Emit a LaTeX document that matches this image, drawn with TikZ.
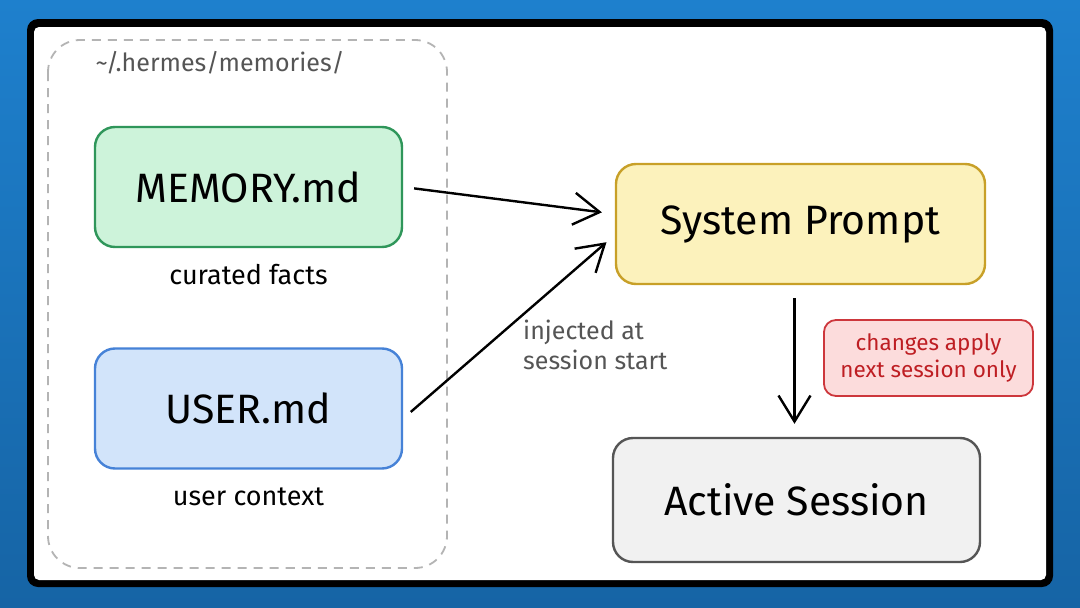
\documentclass[tikz,border=0pt]{standalone}
\usepackage{fontspec}
\setmainfont{Fira Sans}
\usetikzlibrary{arrows.meta}
\definecolor{bgtop}{RGB}{30,128,205}
\definecolor{bgbot}{RGB}{22,100,165}
\definecolor{grn}{RGB}{47,150,90}
\definecolor{grnfill}{RGB}{205,243,218}
\definecolor{blu}{RGB}{70,130,215}
\definecolor{blufill}{RGB}{210,228,250}
\definecolor{gld}{RGB}{200,160,40}
\definecolor{gldfill}{RGB}{252,242,188}
\definecolor{gryfill}{RGB}{241,241,241}
\definecolor{grystroke}{RGB}{85,85,85}
\definecolor{redc}{RGB}{205,55,60}
\definecolor{redfill}{RGB}{252,220,220}
\definecolor{redtext}{RGB}{190,30,35}
\definecolor{labelgray}{RGB}{85,85,85}
\tikzset{
  box/.style={draw, line width=2.4pt, rounded corners=20pt, minimum width=307pt, minimum height=120pt, inner sep=0pt},
  bigtext/.style={font=\fontsize{41}{48}\selectfont, text=black},
  small/.style={font=\fontsize{27}{32}\selectfont, text=black},
  note/.style={font=\fontsize{22.5}{27}\selectfont, align=center},
  conn/.style={line width=2.4pt, -{Straight Barb[length=26pt,width=32pt,line width=2.4pt]}},
}
\begin{document}
\begin{tikzpicture}[x=1pt,y=-1pt]
\useasboundingbox (0,0) rectangle (1080,608);
\shade[top color=bgtop, bottom color=bgbot] (0,0) rectangle (1080,608);
\fill[black, rounded corners=11pt] (27,19) rectangle (1053,587);
\fill[white, rounded corners=5pt] (34,27) rectangle (1046,580);
\draw[draw={rgb,255:red,180;green,180;blue,180}, line width=1.8pt, dash pattern=on 9pt off 7pt, rounded corners=32pt] (48,40) rectangle (447,568);
\node[anchor=west, font=\fontsize{25}{30}\selectfont, text=labelgray] (path) at (92,63) {\textasciitilde/.hermes/memories/};
\node[box, draw=grn, fill=grnfill, bigtext] (mem) at (248.5,187) {MEMORY.md};
\node[small] (cur) at (248.5,275) {curated facts};
\node[box, draw=blu, fill=blufill, bigtext] (usr) at (248.5,408.5) {USER.md};
\node[small] (uctx) at (248.5,497) {user context};
\node[box, draw=gld, fill=gldfill, bigtext, minimum width=369pt] (sp) at (800.5,224) {System Prompt};
\node[box, draw=grystroke, fill=gryfill, bigtext, minimum width=367pt, minimum height=124pt] (act) at (796.5,500) {Active Session};
\node[draw=redc, fill=redfill, line width=1.8pt, rounded corners=12pt, minimum width=209pt, minimum height=76pt, note, text=redtext, inner sep=0pt] (nt) at (928.5,358) {changes apply\\next session only};
\node[text=labelgray, align=left, anchor=west, font=\fontsize{25}{30}\selectfont, inner sep=0pt] (inj) at (523,345) {injected at\\session start};
\draw[conn, shorten <=11pt, shorten >=13pt] (mem.east) -- ([yshift=10pt]sp.west);
\draw[conn, shorten <=10pt, shorten >=11pt] ([yshift=-10pt]usr.east) -- ([yshift=-11pt]sp.west);
\draw[conn, shorten <=13pt, shorten >=13pt] ([xshift=-6pt]sp.south) -- ([xshift=-2pt]act.north);
\end{tikzpicture}
\end{document}
